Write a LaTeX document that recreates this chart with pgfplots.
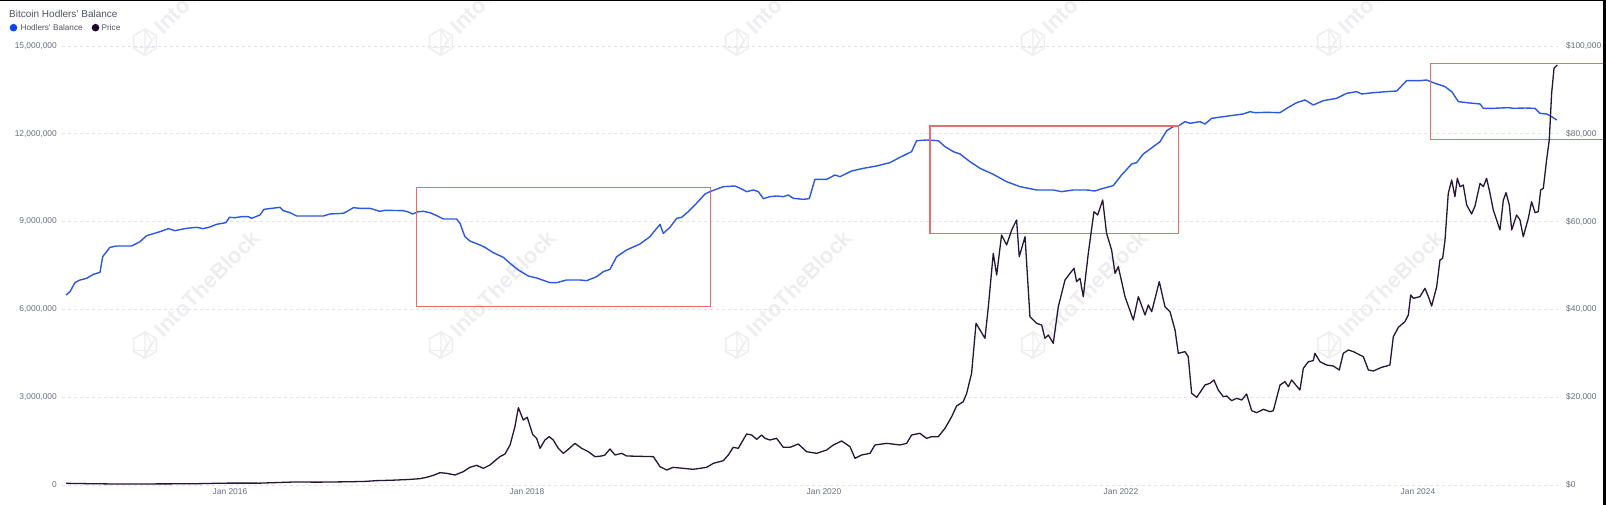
\documentclass[border=0pt]{standalone}
\usepackage{pgfplots}
\pgfplotsset{compat=1.18}
\usepackage{fontspec}
\setmainfont{Liberation Sans}

\definecolor{balblue}{RGB}{44,88,224}
\definecolor{pricedk}{RGB}{36,22,52}
\definecolor{dotblue}{RGB}{10,70,240}
\definecolor{dotdark}{RGB}{30,10,45}
\definecolor{boxred}{RGB}{232,108,108}
\definecolor{ticktxt}{RGB}{105,108,125}
\definecolor{titletxt}{RGB}{80,82,100}
\definecolor{gridc}{RGB}{226,226,232}
\definecolor{wm}{RGB}{238,238,241}

\newcommand{\tickfont}{\fontsize{8.4}{10}\selectfont}

\begin{document}
\begin{tikzpicture}[x=1pt,y=1pt]
\useasboundingbox (0,0) rectangle (1606,505);

% faint brand watermark in the background
\foreach \k in {0,...,4}{
  \pgfmathsetmacro{\wx}{145+296*\k}
  \foreach \wy in {160,463}{
    \draw[wm, line width=1.5pt, line join=round] (\wx,\wy) ++(30:13) -- ++(150:13) -- ++(210:13) -- ++(270:13) -- ++(330:13) -- ++(30:13) -- cycle;
    \draw[wm, line width=1.1pt] (\wx,\wy) ++(90:13) -- ++(-60:13) -- ++(-120:13) -- cycle
                                (\wx,\wy) ++(-30:11.3) -- ++(180:22.6)
                                (\wx,\wy) ++(30:11.3) -- ++(240:22.6);
    \node[rotate=45, text=wm, font=\fontsize{22}{22}\selectfont\bfseries, anchor=west] at (\wx+10,\wy+10) {IntoTheBlock};
  }
}

% title and legend
\node[anchor=west, inner sep=0pt, text=titletxt, font=\fontsize{10}{12}\selectfont] at (9,491) {Bitcoin Hodlers' Balance};
\fill[dotblue] (13.5,477.3) circle (3.8);
\node[anchor=west, inner sep=0pt, text=titletxt, font=\fontsize{8.2}{10}\selectfont] at (20.5,477.3) {Hodlers' Balance};
\fill[dotdark] (95.5,477.3) circle (3.8);
\node[anchor=west, inner sep=0pt, text=titletxt, font=\fontsize{8.2}{10}\selectfont] at (101.5,477.3) {Price};

% left axis: hodlers' balance
\begin{axis}[
  at={(62pt,20pt)}, anchor=south west,
  scale only axis, width=1496pt, height=439pt,
  xmin=2014.869, xmax=2024.943,
  ymin=0, ymax=15000000,
  axis line style={draw=none}, tick style={draw=none},
  scaled y ticks=false,
  ytick={0,3000000,6000000,9000000,12000000,15000000},
  yticklabels={0,{3,000,000},{6,000,000},{9,000,000},{12,000,000},{15,000,000}},
  xtick={2016,2018,2020,2022,2024},
  xticklabels={Jan 2016,Jan 2018,Jan 2020,Jan 2022,Jan 2024},
  ymajorgrids,
  grid style={gridc, line width=0.8pt, dash pattern=on 3pt off 3pt},
  yticklabel style={font=\tickfont, text=ticktxt, inner sep=0pt, xshift=-5pt},
  xticklabel style={font=\tickfont, text=ticktxt, inner sep=0pt, yshift=-3pt},
  clip=false,
]
\addplot[balblue, line width=1.4pt, line join=round] table {
2014.896 6492000
2014.923 6606000
2014.956 6913000
2014.990 7005000
2015.035 7062000
2015.080 7198000
2015.125 7267000
2015.143 7802000
2015.192 8121000
2015.237 8166000
2015.338 8166000
2015.394 8314000
2015.439 8519000
2015.529 8656000
2015.585 8759000
2015.630 8690000
2015.708 8770000
2015.776 8804000
2015.820 8759000
2015.865 8815000
2015.910 8907000
2015.973 8964000
2015.996 9146000
2016.034 9134000
2016.079 9169000
2016.123 9169000
2016.146 9112000
2016.202 9226000
2016.229 9419000
2016.281 9453000
2016.337 9487000
2016.359 9374000
2016.404 9305000
2016.449 9191000
2016.629 9191000
2016.673 9260000
2016.763 9282000
2016.786 9339000
2016.831 9476000
2016.875 9453000
2016.943 9453000
2017.010 9351000
2017.044 9385000
2017.167 9374000
2017.201 9328000
2017.230 9260000
2017.268 9339000
2017.302 9351000
2017.347 9305000
2017.392 9203000
2017.437 9090000
2017.493 9089000
2017.526 9089000
2017.549 8941000
2017.582 8485000
2017.616 8337000
2017.684 8200000
2017.717 8121000
2017.773 7938000
2017.841 7779000
2017.886 7574000
2017.942 7346000
2018.009 7141000
2018.065 7073000
2018.155 6913000
2018.200 6913000
2018.267 7005000
2018.357 7005000
2018.402 6982000
2018.469 7118000
2018.514 7289000
2018.559 7369000
2018.604 7802000
2018.671 8030000
2018.761 8235000
2018.828 8485000
2018.896 8907000
2018.918 8599000
2018.963 8804000
2019.008 9112000
2019.042 9146000
2019.086 9339000
2019.131 9567000
2019.199 9943000
2019.232 10023000
2019.322 10194000
2019.401 10216000
2019.446 10114000
2019.479 10023000
2019.524 10080000
2019.558 10023000
2019.592 9784000
2019.636 9852000
2019.681 9875000
2019.726 9852000
2019.760 9909000
2019.794 9795000
2019.861 9761000
2019.901 9784000
2019.939 10444000
2020.018 10444000
2020.074 10592000
2020.108 10535000
2020.186 10729000
2020.265 10820000
2020.355 10900000
2020.444 11014000
2020.512 11196000
2020.590 11390000
2020.624 11765000
2020.691 11788000
2020.770 11765000
2020.815 11560000
2020.871 11390000
2020.916 11310000
2020.983 11048000
2021.051 10820000
2021.140 10615000
2021.230 10364000
2021.320 10194000
2021.432 10080000
2021.544 10080000
2021.600 10023000
2021.679 10080000
2021.769 10080000
2021.825 10046000
2021.881 10137000
2021.948 10228000
2022.004 10592000
2022.072 10968000
2022.105 11014000
2022.150 11310000
2022.218 11560000
2022.263 11731000
2022.308 12107000
2022.352 12244000
2022.386 12267000
2022.431 12415000
2022.465 12358000
2022.532 12415000
2022.566 12335000
2022.611 12528000
2022.689 12585000
2022.756 12631000
2022.824 12677000
2022.869 12756000
2022.902 12722000
2022.981 12733000
2023.071 12722000
2023.116 12870000
2023.183 13064000
2023.239 13155000
2023.295 12984000
2023.363 13132000
2023.452 13212000
2023.520 13383000
2023.587 13440000
2023.621 13360000
2023.699 13405000
2023.789 13440000
2023.856 13462000
2023.924 13815000
2024.013 13815000
2024.058 13838000
2024.103 13747000
2024.182 13610000
2024.227 13440000
2024.272 13098000
2024.328 13064000
2024.418 13018000
2024.440 12870000
2024.507 12870000
2024.608 12893000
2024.642 12870000
2024.721 12881000
2024.788 12870000
2024.822 12699000
2024.866 12677000
2024.900 12585000
2024.934 12472000
};
% highlighted periods
\draw[boxred, line width=1.4pt] (axis cs:2017.257,6092000) rectangle (axis cs:2019.237,10172000);
\draw[boxred, line width=1.4pt] (axis cs:2020.714,8600000) rectangle (axis cs:2022.386,12267000);
\draw[boxred, line width=1.4pt] (axis cs:2024.085,11812000) rectangle (axis cs:2025.300,14409000);
\end{axis}

% right axis: price
\begin{axis}[
  at={(62pt,20pt)}, anchor=south west,
  scale only axis, width=1496pt, height=439pt,
  xmin=2014.869, xmax=2024.943,
  ymin=0, ymax=100000,
  axis line style={draw=none}, tick style={draw=none},
  scaled y ticks=false,
  xtick=\empty,
  yticklabel pos=right,
  ytick={0,20000,40000,60000,80000,100000},
  yticklabels={\$0,{\$20,000},{\$40,000},{\$60,000},{\$80,000},{\$100,000}},
  yticklabel style={font=\tickfont, text=ticktxt, inner sep=0pt, xshift=8pt},
]
\addplot[pricedk, line width=1.3pt, line join=round] table {
2014.896 380
2015.050 300
2015.200 240
2015.400 240
2015.600 260
2015.753 280
2015.900 380
2016.000 430
2016.200 420
2016.427 680
2016.600 650
2016.763 720
2016.900 800
2016.988 990
2017.100 1100
2017.200 1250
2017.280 1440
2017.324 1750
2017.370 2200
2017.414 2809
2017.459 2658
2017.515 2278
2017.571 3037
2017.616 4024
2017.661 4480
2017.706 3797
2017.751 4556
2017.785 5543
2017.818 6454
2017.852 7061
2017.886 9112
2017.919 13288
2017.942 17616
2017.975 14806
2018.002 15414
2018.038 11541
2018.065 10630
2018.088 8352
2018.121 10251
2018.150 11010
2018.177 10251
2018.211 8352
2018.245 7213
2018.278 8125
2018.323 9491
2018.368 8352
2018.413 7593
2018.458 6454
2018.503 6606
2018.525 6834
2018.559 8200
2018.593 6834
2018.638 7213
2018.671 6606
2018.851 6454
2018.896 4176
2018.941 3417
2018.985 4024
2019.120 3569
2019.210 4024
2019.255 4935
2019.322 5543
2019.356 6834
2019.389 8580
2019.423 8352
2019.479 11617
2019.513 11390
2019.547 10402
2019.580 11390
2019.603 10630
2019.636 10251
2019.681 10630
2019.726 8580
2019.771 8580
2019.827 9339
2019.883 7593
2019.951 7213
2020.018 7973
2020.063 9112
2020.119 10023
2020.175 8732
2020.209 6074
2020.254 6834
2020.310 7213
2020.343 9112
2020.422 9491
2020.512 9112
2020.557 9491
2020.590 11390
2020.646 11769
2020.691 10630
2020.725 11010
2020.770 11010
2020.815 12908
2020.860 15566
2020.893 17995
2020.938 18983
2020.961 20881
2020.994 25437
2021.024 36826
2021.051 35307
2021.084 33409
2021.107 40623
2021.140 52771
2021.163 47836
2021.196 56948
2021.230 54670
2021.264 58086
2021.297 60364
2021.315 52012
2021.354 56568
2021.387 38345
2021.432 36826
2021.466 36446
2021.488 33409
2021.511 34169
2021.544 32270
2021.578 40623
2021.623 46697
2021.657 48216
2021.684 49355
2021.701 46317
2021.724 47077
2021.746 42900
2021.780 52771
2021.818 62263
2021.843 61503
2021.877 64920
2021.903 57327
2021.937 53531
2021.960 48216
2021.982 49734
2022.027 42900
2022.083 37585
2022.117 42900
2022.162 38724
2022.184 41002
2022.207 39484
2022.258 46317
2022.296 40623
2022.330 39484
2022.364 35307
2022.386 29992
2022.431 30372
2022.453 29233
2022.476 20881
2022.510 19970
2022.566 22779
2022.599 23159
2022.626 23918
2022.655 21640
2022.689 20121
2022.712 20273
2022.745 19210
2022.779 19742
2022.813 19362
2022.846 20729
2022.880 16932
2022.914 16477
2022.959 17236
2023.003 16705
2023.026 16932
2023.071 22779
2023.104 23538
2023.127 22399
2023.149 23918
2023.205 21640
2023.228 26576
2023.262 28094
2023.295 28322
2023.306 29992
2023.340 28094
2023.385 27335
2023.430 27107
2023.470 26196
2023.497 29992
2023.531 30752
2023.565 30372
2023.609 29613
2023.632 29233
2023.666 26196
2023.699 25968
2023.755 26803
2023.789 27107
2023.811 27335
2023.834 33789
2023.868 35915
2023.912 37206
2023.935 38724
2023.951 43280
2023.969 42521
2024.013 42900
2024.047 44799
2024.070 42900
2024.092 40774
2024.126 45178
2024.148 51253
2024.166 51632
2024.182 55809
2024.204 66439
2024.227 69476
2024.249 65679
2024.265 69856
2024.283 67957
2024.305 68337
2024.328 63781
2024.361 61731
2024.384 63553
2024.418 68717
2024.440 67957
2024.462 69856
2024.485 66439
2024.507 62642
2024.552 58086
2024.575 64920
2024.593 66591
2024.615 63781
2024.631 58086
2024.664 61503
2024.687 60364
2024.709 56568
2024.743 60744
2024.765 64541
2024.788 62035
2024.810 62263
2024.826 67198
2024.844 67578
2024.866 74032
2024.884 78588
2024.900 89218
2024.916 94912
2024.938 95672
};
\end{axis}

% frame edges
\fill[black] (0,503.8) rectangle (1606,505);
\fill[black] (1603,0) rectangle (1606,505);
\end{tikzpicture}
\end{document}
